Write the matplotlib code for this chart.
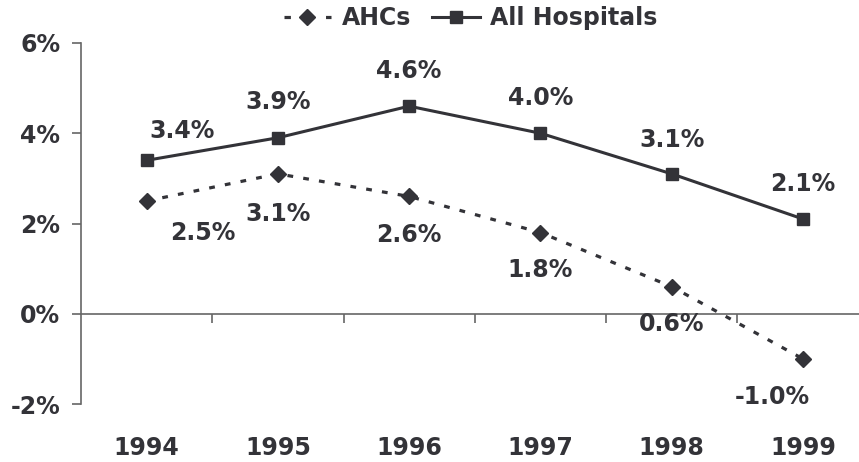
import numpy as np
import matplotlib.pyplot as plt
from matplotlib.lines import Line2D

plt.rcParams.update({
    'font.family': ['DejaVu Sans'],
    'font.weight': 'bold',
    'font.size': 17,
})

# データ
years = ['1994', '1995', '1996', '1997', '1998', '1999']
ahcs = [2.5, 3.1, 2.6, 1.8, 0.6, -1.0]
all_hosp = [3.4, 3.9, 4.6, 4.0, 3.1, 2.1]
yticks = [-2, 0, 2, 4, 6]

txt = '#333338'
grey = '#666666'
x = np.arange(len(years))

fig = plt.figure(figsize=(8.59, 4.62), dpi=100)
ax = fig.add_axes([81 / 859, 58 / 462, 787.6 / 859, 361 / 462])

ax.plot(x, ahcs, linestyle=(0, (1.8, 3.2)), color=txt, lw=2.3,
        marker='D', markersize=8.5)
hosp_line, = ax.plot(x, all_hosp, '-', color=txt, lw=2.2,
                     marker='s', markersize=8.5)

ax.set_xlim(-0.5, len(years) - 0.5)
ax.set_ylim(-2, 6)

# 軸の設定
for s in ['top', 'right', 'bottom']:
    ax.spines[s].set_visible(False)
ax.spines['left'].set_color(grey)
ax.spines['left'].set_linewidth(1.2)
ax.set_yticks(yticks)
ax.set_yticklabels([f'{v}%' for v in yticks], color=txt)
ax.tick_params(axis='y', length=6.5, width=1.2, color=grey, pad=8.5)
ax.set_xticks(x)
ax.set_xticklabels(years, color=txt)
ax.tick_params(axis='x', length=0, pad=23)

# ゼロ線
zero = ax.secondary_xaxis(0.25)
zero.set_xticks(x[:-1] + 0.5)
zero.set_xticklabels([])
zero.tick_params(length=6.5, width=1.2, color=grey)
zero.spines['bottom'].set_color(grey)
zero.spines['bottom'].set_linewidth(1.2)

# データラベル
hosp_off = [(35, 29), (0, 36), (0, 35), (0, 35), (0, 34), (0, 35)]
ahc_off = [(56, -32), (0, -40), (0, -39), (0, -37), (0, -37), (-31, -38)]
for i in range(len(years)):
    ax.annotate(f'{all_hosp[i]:.1f}%', (x[i], all_hosp[i]), xytext=hosp_off[i],
                textcoords='offset pixels', ha='center', va='center',
                color=txt)
    ax.annotate(f'{ahcs[i]:.1f}%', (x[i], ahcs[i]), xytext=ahc_off[i],
                textcoords='offset pixels', ha='center', va='center',
                color=txt)

# 凡例（点線は左右対称に見えるように）
ahc_handle = Line2D([], [], linestyle=(0, (2, 4.5)), color=txt, lw=2.3,
                    marker='D', markersize=8.5)
fig.legend([ahc_handle, hosp_line], ['AHCs', 'All Hospitals'],
           loc='upper center', bbox_to_anchor=(0.548, 1.032), ncol=2,
           frameon=False, labelcolor=txt, handlelength=2.0,
           columnspacing=0.9, handletextpad=0.45)

plt.savefig('out.png', dpi=100)
